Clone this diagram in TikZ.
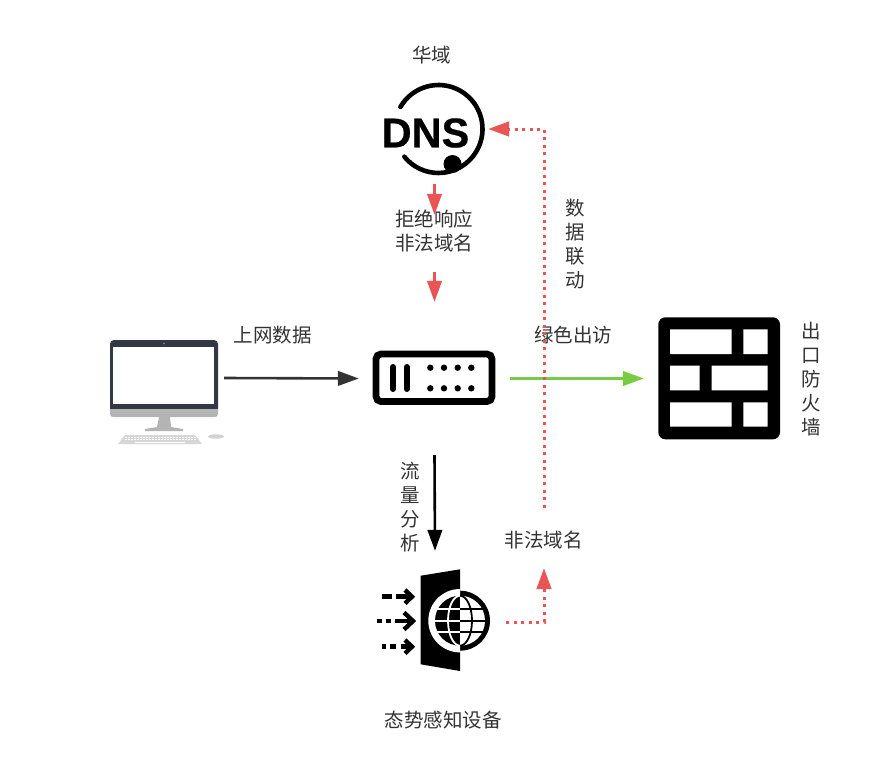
\documentclass[tikz,border=0pt]{standalone}
\usepackage{fontspec}
\setmainfont{Noto Sans CJK SC}
\newfontfamily\dnsfont[BoldFeatures={FakeBold=0.5}]{Liberation Sans}
\usetikzlibrary{arrows.meta}
\definecolor{lbl}{HTML}{333333}
\definecolor{redc}{HTML}{EA5455}
\definecolor{greenc}{HTML}{77CC44}
\definecolor{bez}{HTML}{343844}
\definecolor{gry}{HTML}{B4B4B4}
\tikzset{
 x=1pt,y=-1pt,
 txt/.style={text=lbl,font=\fontsize{19.5}{24}\selectfont,align=center,inner sep=0pt},
 conn/.style={line width=2.6pt,-{Triangle[length=21pt,width=14.5pt]}},
 dotline/.style={redc,line width=3pt,dash pattern=on 3pt off 4.5pt},
 dothead/.style={-{Triangle[length=21pt,width=14.5pt]}},
 flow/.style={line width=4.6pt},
 chev/.style={line width=4.4pt,line cap=butt,miter limit=10},
}
\begin{document}
\begin{tikzpicture}
\useasboundingbox (0,0) rectangle (885,776);
\fill[white] (0,0) rectangle (885,776);
% anchor nodes
\node[inner sep=0pt,minimum width=107pt,minimum height=110pt] (dns) at (434.5,129) {};
\node[inner sep=0pt,minimum width=151pt,minimum height=153pt] (sw) at (434.5,378.5) {};
\node[inner sep=0pt,minimum width=142pt,minimum height=142pt] (sa) at (435,622) {};
\node[inner sep=0pt,minimum width=114pt,minimum height=76pt] (pc) at (167,378) {};
\node[inner sep=0pt,minimum width=136pt,minimum height=122pt] (fw) at (712,378.5) {};
\node[inner sep=0pt,minimum width=78pt,minimum height=57pt] (rejbox) at (434.5,243.5) {};
\node[inner sep=0pt,minimum width=78pt,minimum height=60pt] (illbox) at (544,538) {};
% DNS icon
\draw[line width=4.6pt,line cap=round] (400.4,107) arc[start angle=-150,end angle=141,radius=44];
\node[inner sep=0pt,font=\dnsfont\bfseries\fontsize{41.5}{41}\selectfont] (dnstext) at (425.5,133) {DNS};
\fill (452.5,164) circle[radius=9];
% PC
\fill[bez] (110,344) arc[start angle=180,end angle=270,radius=4] -- (214,340) arc[start angle=-90,end angle=0,radius=4] -- (218,409) -- (110,409) -- cycle;
\fill[white] (112.7,346.7) rectangle (214,404);
\fill[gry] (110,409) -- (218,409) -- (218,414) arc[start angle=0,end angle=90,radius=3] -- (113,417) arc[start angle=90,end angle=180,radius=3] -- cycle;
\fill[bez!60] (164,343.5) circle[radius=0.9];
\fill[gry] (159,417) -- (170,417) -- (171,427) -- (183,429) -- (183,431) -- (145,431) -- (145,429) -- (157,427) -- cycle;
\fill[gry!55] (125,435) -- (195,435) -- (202,444) -- (118,444) -- cycle;
\foreach \yy in {437,439.5}{\draw[white,line width=.6pt,dash pattern=on 2pt off 1pt] (125,\yy) -- (196,\yy);}
\draw[white,line width=.8pt] (135,442) -- (185,442);
\fill[gry!60] (216,436.5) ellipse[x radius=8,y radius=2.2];
% switch
\draw[line width=6.8pt,rounded corners=5pt] (376,354) rectangle (492,401.5);
\draw[line width=6pt,line cap=round] (393,367) -- (393,389);
\draw[line width=6pt,line cap=round] (406.7,367) -- (406.7,389);
\foreach \xx in {430.3,444,457.7,471.3}{\fill (\xx,367.7) circle[radius=3.2];\fill (\xx,388.3) circle[radius=3.2];}
% firewall
\fill[rounded corners=7pt] (658.3,317.3) rectangle (780,439.3);
\fill[white] (670,329.3) rectangle (731.7,354) (743.3,329.3) rectangle (767.7,354)
 (670,365.7) rectangle (699.7,390.3) (711.7,365.7) rectangle (767.7,390.3)
 (670,402.3) rectangle (731.7,426.7) (743.3,402.3) rectangle (767.7,426.7);
% threat device
\fill (420.7,575.7) -- (460,569.3) -- (460,671) -- (420.7,664.3) -- cycle;
\fill (460,620.7) circle[radius=30];
\fill[white] (460,589) arc[start angle=-90,end angle=-270,radius=31.7] -- cycle;
\fill (460,595.7) arc[start angle=-90,end angle=-270,radius=25] -- cycle;
\fill[white] (460,595.7) arc[start angle=-90,end angle=90,radius=25] -- cycle;
\begin{scope}
 \clip (435,595.7) rectangle (460,645.7);
 \draw[white,line width=1.8pt] (435,609.3) -- (460,609.3) (435,620.7) -- (460,620.7) (435,632.3) -- (460,632.3);
 \draw[white,line width=1.8pt] (460,620.7) ellipse[x radius=12,y radius=25];
\end{scope}
\begin{scope}
 \clip (460,595.7) rectangle (485,645.7);
 \draw[line width=1.8pt] (460,609.3) -- (485,609.3) (460,620.7) -- (485,620.7) (460,632.3) -- (485,632.3);
 \draw[line width=1.8pt] (460,620.7) ellipse[x radius=12,y radius=25];
\end{scope}
% incoming arrows
\draw[flow] (381.7,596.7) -- (391.7,596.7) (396,596.7) -- (411,596.7);
\draw[chev] (405,590) -- (412,596.7) -- (405,603.4);
\draw[flow] (376.7,621) -- (381.7,621) (385.7,621) -- (390.7,621) (395,621) -- (412,621);
\draw[chev] (404,612.5) -- (413,621) -- (404,629.5);
\draw[flow] (381.7,646.7) -- (386,646.7) (390,646.7) -- (396,646.7) (400.7,646.7) -- (411,646.7);
\draw[chev] (405,640) -- (412,646.7) -- (405,653.4);
% labels
\node[txt] (l1) at (431.5,55) {华域};
\node[txt] (rej) at (434,231) {拒绝响应\\非法域名};
\node[txt] (l3) at (272.5,335) {上网数据};
\node[txt] (l4) at (573,335) {绿色出访};
\node[txt] (l5) at (575,244.5) {数\\据\\联\\动};
\node[txt] (l6) at (811,379.5) {出\\口\\防\\火\\墙};
\node[txt] (l7) at (410.5,507.5) {流\\量\\分\\析};
\node[txt] (ill) at (543.5,540) {非法域名};
\node[txt] (l9) at (443,720) {态势感知设备};
% connectors
\draw[conn,lbl] (pc.east) -- (sw.west);
\draw[conn,greenc] (sw.east) -- (fw.west);
\draw[conn,black] (sw.south) -- (sa.north);
\draw[conn,redc] (dns.south) -- (rejbox.north);
\draw[conn,redc] (rejbox.south) -- (sw.north);
\draw[dotline,dothead] (illbox.north) |- (dns.east);
\draw[dotline,dothead] (sa.east) -| (illbox.south);
\end{tikzpicture}
\end{document}
